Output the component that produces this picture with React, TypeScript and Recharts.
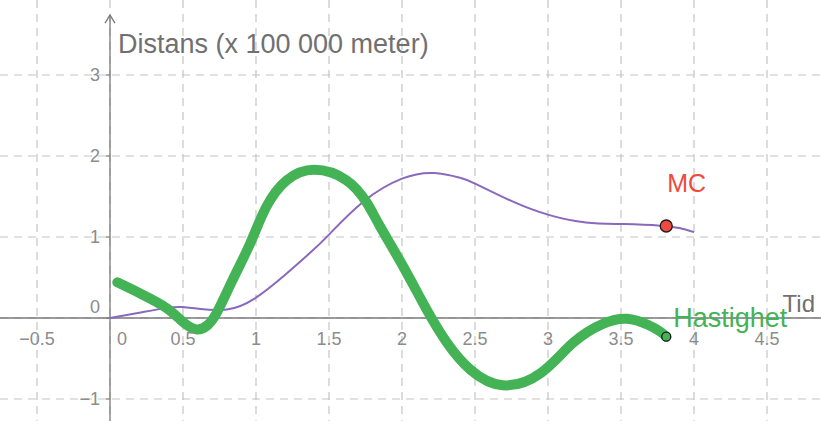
import React from 'react';
import { ComposedChart, Line, XAxis, YAxis, CartesianGrid, ReferenceLine, ReferenceDot } from 'recharts';

const X_TICKS = [-0.5, 0, 0.5, 1, 1.5, 2, 2.5, 3, 3.5, 4, 4.5];
const Y_TICKS = [-1, 0, 1, 2, 3];
const X_LABELS = ['−0.5', '0', '0.5', '1', '1.5', '2', '2.5', '3', '3.5', '4', '4.5'];
const Y_LABELS = ['−1', '0', '1', '2', '3'];

// distans (MC)
const distTime = [0, 0.2, 0.39, 0.5, 0.62, 0.8, 0.99, 1.21, 1.38, 1.5, 1.735, 2.0, 2.22, 2.4, 2.5, 2.76, 3.01, 3.26, 3.52, 3.77, 3.9, 4.0];
const distValue = [0, 0.065, 0.125, 0.135, 0.11, 0.105, 0.24, 0.55, 0.82, 1.03, 1.436, 1.72, 1.79, 1.73, 1.66, 1.436, 1.27, 1.18, 1.16, 1.14, 1.11, 1.06];

// hastighet
const speedTime = [0.05, 0.21, 0.39, 0.5, 0.59, 0.66, 0.73, 0.84, 0.96, 1.07, 1.21, 1.4, 1.62, 1.76, 1.85, 2.01, 2.17, 2.31, 2.47, 2.69, 2.95, 3.17, 3.38, 3.54, 3.68, 3.77, 3.81];
const speedValue = [0.44, 0.3, 0.12, -0.05, -0.14, -0.1, 0.06, 0.47, 0.92, 1.37, 1.7, 1.83, 1.7, 1.42, 1.13, 0.63, 0.1, -0.31, -0.64, -0.83, -0.68, -0.31, -0.07, -0.01, -0.08, -0.17, -0.23];

const MC_POINT = { x: 3.81, y: 1.136 };
const SPEED_POINT = { x: 3.81, y: -0.23 };

const distData = distTime.map((x, i) => ({ x, y: distValue[i] }));
const speedData = speedTime.map((x, i) => ({ x, y: speedValue[i] }));

const FONT = '"Liberation Sans", Arial, sans-serif';
const GRID = '#c4c4c4';
const AXIS = '#7a7a7a';
const TICK = '#8c8c8c';
const GREEN = '#44b356';
const PURPLE = '#8a68bd';
const RED = '#ee4a3f';

export default function App() {
  return (
    <div style={{ position: 'absolute', left: 0, top: 0, background: '#fff' }}>
      <ComposedChart width={821} height={421} margin={{ top: 0, right: 0, bottom: 0, left: 0 }}>
        <XAxis type="number" dataKey="x" domain={[-0.7534, 4.8699]} ticks={X_TICKS} allowDataOverflow hide />
        <YAxis type="number" dataKey="y" domain={[-1.2716, 3.926]} ticks={Y_TICKS} allowDataOverflow hide />
        <CartesianGrid strokeDasharray="8 6" stroke={GRID} strokeWidth={1.2} verticalValues={X_TICKS} horizontalValues={Y_TICKS} />
        <ReferenceLine y={0} stroke={AXIS} strokeWidth={1.3} />
        <ReferenceLine segment={[{ x: 0, y: -1.2716 }, { x: 0, y: 3.74 }]} stroke={AXIS} strokeWidth={1.3} />
        <ReferenceDot
          x={0}
          y={3.74}
          r={0}
          shape={(p: any) => (
            <path d={`M${p.cx - 5},${p.cy + 8} L${p.cx},${p.cy} L${p.cx + 5},${p.cy + 8}`} stroke={AXIS} strokeWidth={1.3} fill="none" />
          )}
        />
        {X_TICKS.map((t, i) => (
          <ReferenceDot
            key={'xt' + t}
            x={t}
            y={0}
            r={0}
            shape={(p: any) => (
              <text x={p.cx + (t === 0 ? 12 : 0)} y={p.cy + 27} textAnchor="middle" fontSize={18} fontFamily={FONT} fill={TICK}>
                {X_LABELS[i]}
              </text>
            )}
          />
        ))}
        {Y_TICKS.map((t, i) => (
          <ReferenceDot
            key={'yt' + t}
            x={0}
            y={t}
            r={0}
            shape={(p: any) => (
              <g>
                <line x1={p.cx - 4} y1={p.cy} x2={p.cx} y2={p.cy} stroke={AXIS} strokeWidth={1.2} />
                <text x={p.cx - 10} y={p.cy + (t === 0 ? -5 : 6)} textAnchor="end" fontSize={18} fontFamily={FONT} fill={TICK}>
                  {Y_LABELS[i]}
                </text>
              </g>
            )}
          />
        ))}
        <Line data={distData} dataKey="y" type="natural" stroke={PURPLE} strokeWidth={2} dot={false} activeDot={false} isAnimationActive={false} />
        <Line data={speedData} dataKey="y" type="natural" stroke={GREEN} strokeWidth={10} strokeLinecap="round" dot={false} activeDot={false} isAnimationActive={false} />
        <ReferenceDot x={MC_POINT.x} y={MC_POINT.y} r={6} fill={RED} stroke="#1a1a1a" strokeWidth={1.3} />
        <ReferenceDot x={SPEED_POINT.x} y={SPEED_POINT.y} r={4.5} fill={GREEN} stroke="#1a1a1a" strokeWidth={1.3} />
        <ReferenceDot
          x={0}
          y={3.926}
          r={0}
          shape={(p: any) => (
            <text x={p.cx + 8} y={p.cy + 53} fontSize={27} fontFamily={FONT} fill="#707070">
              Distans (x 100 000 meter)
            </text>
          )}
        />
        <ReferenceDot
          x={4.6}
          y={0}
          r={0}
          shape={(p: any) => (
            <text x={p.cx + 1} y={p.cy - 6} fontSize={24} fontFamily={FONT} fill="#707070">
              Tid
            </text>
          )}
        />
        <ReferenceDot
          x={MC_POINT.x}
          y={MC_POINT.y}
          r={0}
          shape={(p: any) => (
            <text x={p.cx + 1} y={p.cy - 34} fontSize={25} fontFamily={FONT} fill={RED}>
              MC
            </text>
          )}
        />
        <ReferenceDot
          x={SPEED_POINT.x}
          y={SPEED_POINT.y}
          r={0}
          shape={(p: any) => (
            <text x={p.cx + 7} y={p.cy - 10} fontSize={27} fontFamily={FONT} fill={GREEN}>
              Hastighet
            </text>
          )}
        />
      </ComposedChart>
    </div>
  );
}
